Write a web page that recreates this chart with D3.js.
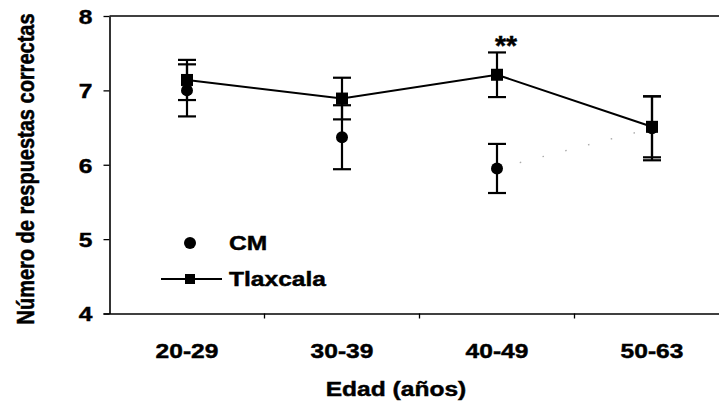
<!DOCTYPE html>
<html>
<head>
<meta charset="utf-8">
<script src="https://cdn.jsdelivr.net/npm/d3@7"></script>
<style>
  html, body { margin: 0; padding: 0; background: #fff; }
  svg { display: block; }
  text { font-family: "Liberation Sans", Arial, sans-serif; font-weight: bold; fill: #000;
         stroke: #000; stroke-width: 0.45px; }
</style>
</head>
<body>
<svg id="chart" width="719" height="410"></svg>
<script>
// Age groups and the mean number of correct answers per group
const categories = ["20-29", "30-39", "40-49", "50-63"];
const tlaxcalaMean = [7.14, 6.89, 7.21, 6.51];
const tlaxcalaErr  = [0.27, 0.28, 0.30, 0.41];
const cmMean = [7.00, 6.37, 5.95, 6.49];
const cmErr  = [0.35, 0.43, 0.33, 0.43];
const significance = ["", "", "**", ""];
const yTicks = [4, 5, 6, 7, 8];

const svg = d3.select("#chart");
const plotLeft = 109.5, plotTop = 16, plotBottom = 313.5;
const bandW = 155;
const stretch = 1.17;   // the lettering is slightly wide

const x = d3.scaleBand().domain(categories).range([plotLeft, plotLeft + bandW * categories.length]).padding(0);
const y = d3.scaleLinear().domain([4, 8]).range([plotBottom, plotTop]);
const cx = c => x(c) + x.bandwidth() / 2;

// plot frame (top edge; right edge falls outside the view)
svg.append("line").attr("x1", plotLeft).attr("x2", 740).attr("y1", plotTop).attr("y2", plotTop)
  .attr("stroke", "#000").attr("stroke-width", 1.3);

// y axis
const yAxis = svg.append("g").attr("transform", `translate(${plotLeft},0)`)
  .call(d3.axisLeft(y).tickValues(yTicks).tickFormat(d3.format("d")).tickSize(6).tickSizeOuter(0));
yAxis.select(".domain").attr("stroke-width", 1.6);
yAxis.selectAll(".tick line").attr("stroke-width", 1.3);
yAxis.selectAll(".tick text")
  .attr("x", null).attr("dy", null)
  .attr("text-anchor", "end")
  .attr("dominant-baseline", "central")
  .style("font-size", "21px")
  .attr("transform", `translate(-17,0) scale(${stretch},1)`);

// x axis: line with ticks on category boundaries, labels centred on each band
const xAxis = svg.append("g").attr("transform", `translate(0,${plotBottom})`)
  .call(d3.axisBottom(x).tickSize(0).tickSizeOuter(0).tickPadding(0));
xAxis.select(".domain").attr("d", `M${plotLeft - 6},0.5H740`).attr("stroke-width", 1.6);
xAxis.selectAll(".tick text")
  .attr("y", null).attr("dy", null)
  .style("font-size", "21px")
  .attr("transform", `translate(0,44) scale(${stretch},1)`);
xAxis.selectAll(".boundary").data(categories.slice(1)).enter().append("line")
  .attr("class", "boundary")
  .attr("x1", d => x(d)).attr("x2", d => x(d)).attr("y1", 0).attr("y2", 5)
  .attr("stroke", "#000").attr("stroke-width", 1.3);

// axis titles
svg.append("text")
  .attr("text-anchor", "middle").style("font-size", "21px")
  .attr("transform", `translate(396,396) scale(${stretch},1)`)
  .text("Edad (años)");
svg.append("text")
  .attr("text-anchor", "middle").style("font-size", "20px")
  .attr("transform", `translate(34,169) scale(${stretch},1) rotate(-90)`)
  .text("Número de respuestas correctas");

const cmData = categories.map((c, i) => ({ c, m: cmMean[i], e: cmErr[i] }));
const tlData = categories.map((c, i) => ({ c, m: tlaxcalaMean[i], e: tlaxcalaErr[i], s: significance[i] }));

// faint dotted trace of the CM group for the older ages
svg.append("path")
  .datum(cmData.slice(2))
  .attr("fill", "none").attr("stroke", "#aaa").attr("stroke-width", 1.4)
  .attr("stroke-dasharray", "1.5,22")
  .attr("d", d3.line().x(d => cx(d.c)).y(d => y(d.m)));

// error bars
function errorBars(data, cls) {
  const g = svg.append("g").attr("class", cls);
  const sel = g.selectAll("g").data(data).enter().append("g");
  sel.append("line")
    .attr("x1", d => cx(d.c)).attr("x2", d => cx(d.c))
    .attr("y1", d => y(d.m + d.e)).attr("y2", d => y(d.m - d.e))
    .attr("stroke", "#000").attr("stroke-width", 2.2);
  [1, -1].forEach(sgn => {
    sel.append("line")
      .attr("x1", d => cx(d.c) - 9).attr("x2", d => cx(d.c) + 9)
      .attr("y1", d => y(d.m + sgn * d.e)).attr("y2", d => y(d.m + sgn * d.e))
      .attr("stroke", "#000").attr("stroke-width", 2.2);
  });
}
errorBars(cmData, "cm-err");
errorBars(tlData, "tl-err");

// Tlaxcala line
svg.append("path")
  .datum(tlData)
  .attr("fill", "none").attr("stroke", "#000").attr("stroke-width", 2)
  .attr("d", d3.line().x(d => cx(d.c)).y(d => y(d.m)));

// markers
svg.selectAll(".cm-pt").data(cmData).enter().append("circle")
  .attr("class", "cm-pt")
  .attr("cx", d => cx(d.c)).attr("cy", d => y(d.m)).attr("r", 6).attr("fill", "#000");
svg.selectAll(".tl-pt").data(tlData).enter().append("rect")
  .attr("class", "tl-pt")
  .attr("x", d => cx(d.c) - 6).attr("y", d => y(d.m) - 6)
  .attr("width", 12).attr("height", 12).attr("fill", "#000");

// significance marks
svg.selectAll(".sig").data(tlData.filter(d => d.s)).enter().append("text")
  .attr("class", "sig").attr("text-anchor", "middle").style("font-size", "27px")
  .attr("transform", d => `translate(${cx(d.c) + 9},${y(d.m + d.e) + 3}) scale(1.05,1)`)
  .text(d => d.s);

// legend
const lg = svg.append("g");
lg.append("circle").attr("cx", 190).attr("cy", 243).attr("r", 6).attr("fill", "#000");
lg.append("text").style("font-size", "21px").attr("dominant-baseline", "central")
  .attr("transform", `translate(229,243) scale(${stretch},1)`).text("CM");
lg.append("line").attr("x1", 161).attr("x2", 222).attr("y1", 279).attr("y2", 279)
  .attr("stroke", "#000").attr("stroke-width", 2);
lg.append("rect").attr("x", 185).attr("y", 274).attr("width", 10).attr("height", 10).attr("fill", "#000");
lg.append("text").style("font-size", "21px").attr("dominant-baseline", "central")
  .attr("transform", `translate(229,279) scale(${stretch},1)`).text("Tlaxcala");
</script>
</body>
</html>
